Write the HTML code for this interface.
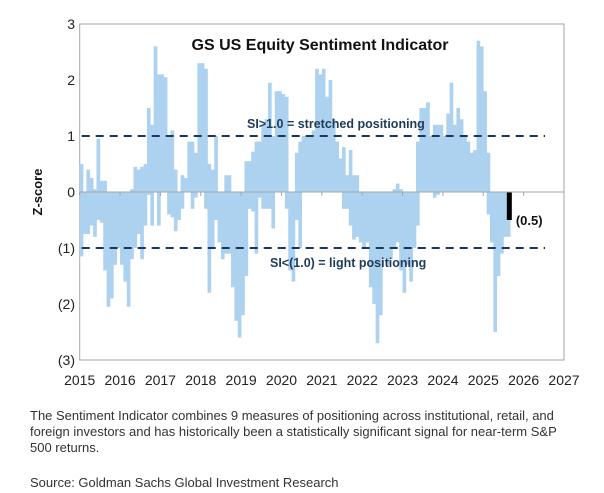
<!DOCTYPE html>
<html><head><meta charset="utf-8"><style>
body{margin:0;background:#fff;width:604px;height:493px;overflow:hidden;font-family:"Liberation Sans",sans-serif}
.cap{position:absolute;left:30px;font-size:13px;color:#333;line-height:16px}
</style></head><body>
<svg width="604" height="400" style="position:absolute;left:0;top:0" id="chart"></svg>
<div class="cap" style="top:408px;width:546px">The Sentiment Indicator combines 9 measures of positioning across institutional, retail, and foreign investors and has historically been a statistically significant signal for near-term S&amp;P 500 returns.</div>
<div class="cap" style="top:475px">Source: Goldman Sachs Global Investment Research</div>
<script>
const monthHighs=[0.5,0,0.4,0.25,0.05,0.95,0.2,0.2,0,0,0,0,
0,0,0,0.05,0.45,0.4,0.45,0.5,1.5,1.2,2.6,2.1,
2.1,2.05,1.0,1.1,0.4,0,0.3,0.25,0.9,0.9,0.7,2.3,
2.3,2.2,0.5,0.4,1.0,0,0,0.3,0.3,0,0,0,
0,0.55,0.55,0.72,0.9,0.9,1.2,1.3,1.95,1.0,1.8,1.8,
1.75,1.7,0,0,0.7,0.9,1.0,1.0,1.0,1.1,2.2,2.1,
2.2,1.7,2.0,1.3,0.9,0.6,0.8,0.3,0.75,0.3,0.3,0,
0,0,0,0,0,0,0,0,0,0.05,0.15,0.05,
0,0,0,0,0.9,1.5,1.5,1.6,1.0,1.2,1.2,1.2,
1.0,1.4,1.95,1.2,1.5,1.3,1.0,0.9,0.7,0.75,2.7,2.6,
1.8,0.7,0,0,0,0,0,0];
const monthLows=[-1.15,-0.75,-0.75,-0.6,-0.8,-0.5,-0.55,-1.4,-2.05,-1.9,-1.3,-1.0,
-1.3,-1.6,-2.05,-1.2,-1.0,-0.75,-1.2,-0.6,-0.05,-0.6,0,-0.6,
0,0,-0.4,-0.45,-0.7,-0.5,-0.3,0,0,-0.3,-0.1,0,
0,-0.3,-1.8,-1.0,-0.5,-0.9,-1.2,-1.1,-1.1,-1.7,-2.3,-2.6,
-2.2,-1.5,-0.3,-0.35,-1.1,-0.1,-0.3,-0.3,-0.3,-0.65,0,0,
0,-0.3,-1.4,-1.6,-0.5,-1.0,0,0,0,0,0,0,
0,0,0,0,0,0,-0.3,-0.3,-0.6,-0.85,-0.8,-0.9,
-1.0,-0.9,-1.7,-2.0,-2.7,-2.2,-1.2,-1.3,-1.2,-1.0,-0.9,-1.4,
-1.8,-1.3,-1.6,-1.0,-0.6,0,0,0,0,-0.1,-0.05,0,
0,0,0,0,0,0,0,0,0,0,0,0,
0,-0.4,-0.9,-2.5,-1.5,-1.1,-0.8,-0.8];
const latestValue=-0.5;
const yTicks=[3,2,1,0,-1,-2,-3];
const yTickLabels=["3","2","1","0","(1)","(2)","(3)"];
const xYears=[2015,2016,2017,2018,2019,2020,2021,2022,2023,2024,2025,2026,2027];
const thresholds=[1,-1];

const NS="http://www.w3.org/2000/svg";
const svg=document.getElementById('chart');
const L=79.7,R=564,T=24,B=360;
const x=t=>L+(t-2015)*(R-L)/12;
const y=v=>192-v*56;
function mk(tag,attrs,parent){const e=document.createElementNS(NS,tag);for(const k in attrs)e.setAttribute(k,attrs[k]);(parent||svg).appendChild(e);return e;}
const frame=mk('rect',{x:L,y:T,width:R-L,height:B-T,fill:'none',stroke:'#a6a6a6','stroke-width':1});


const bw=(R-L)/144+0.3;
const barsG=mk('g',{});


for(let i=0;i<monthHighs.length;i++){
  const t=2015+i/12;
  [monthHighs[i],monthLows[i]].forEach(v=>{
    if(v===0)return;
    const r=mk('rect',{x:x(t),y:Math.min(y(v),y(0)),width:bw,height:Math.abs(y(v)-y(0)),fill:'#acd2f0'},barsG);
    
    
  });
}
const lt=2015+(monthHighs.length-1)/12;
const lb=mk('rect',{x:x(lt),y:y(0),width:5,height:y(latestValue)-y(0),fill:'#000'});


const ll=mk('text',{x:x(lt)+9,y:y(latestValue)+5,'font-size':13,'font-weight':'bold',fill:'#111'});
ll.textContent='('+Math.abs(latestValue).toFixed(1)+')';


const zl=mk('line',{x1:L,x2:R,y1:y(0),y2:y(0),stroke:'#a6a6a6','stroke-width':1});


xYears.forEach(yr=>{
  const tk=mk('line',{x1:x(yr),x2:x(yr),y1:y(0),y2:y(0)+4,stroke:'#a6a6a6'});
  
  
  const tl=mk('text',{x:x(yr),y:385,'font-size':14,'text-anchor':'middle',fill:'#222'});
  tl.textContent=yr;
  
  
});
yTicks.forEach((v,i)=>{
  const tl=mk('text',{x:75,y:y(v)+5,'font-size':14,'text-anchor':'end',fill:'#222'});
  tl.textContent=yTickLabels[i];
  
  
});
thresholds.forEach(v=>{
  const d=mk('line',{x1:L+2,x2:545,y1:y(v),y2:y(v),stroke:'#17375e','stroke-width':2,'stroke-dasharray':'8,6'});
  
  
});
const a1=mk('text',{x:247,y:y(1)-8,'font-size':12.5,'font-weight':'bold',fill:'#1f3b5a'});
a1.textContent='SI>1.0 = stretched positioning';


const a2=mk('text',{x:270,y:y(-1)+19,'font-size':12.5,'font-weight':'bold',fill:'#1f3b5a'});
a2.textContent='SI<(1.0) = light positioning';


const ti=mk('text',{x:320,y:50,'font-size':16,'font-weight':'bold','text-anchor':'middle',fill:'#111'});
ti.textContent='GS US Equity  Sentiment Indicator';


const yt=mk('text',{x:0,y:0,'font-size':13,'font-weight':'bold','text-anchor':'middle',fill:'#111',transform:'translate(42,192) rotate(-90)'});
yt.textContent='Z-score';


</script>
</body></html>
